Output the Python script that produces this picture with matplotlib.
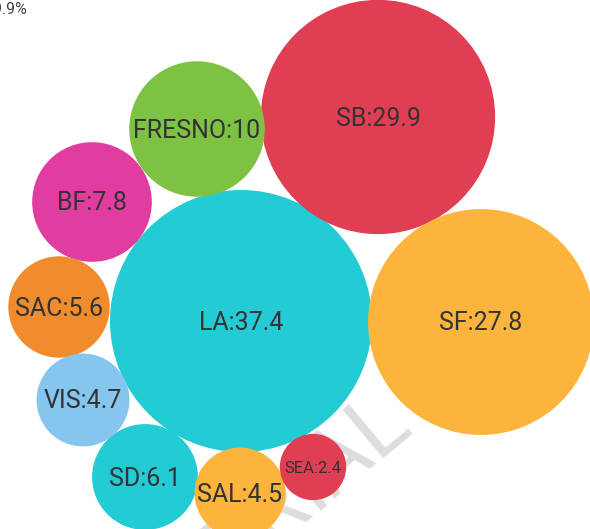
import numpy as np
import matplotlib.pyplot as plt
from matplotlib.patches import Circle

# data
cities = ['LA', 'SB', 'SF', 'FRESNO', 'BF', 'SD', 'SAC', 'VIS', 'SAL', 'SEA']
values = [37.4, 29.9, 27.8, 10, 7.8, 6.1, 5.6, 4.7, 4.5, 2.4]
colors = ['#23cbd5', '#e03e52', '#fcb43d', '#7dc243', '#e13da1',
          '#23cbd5', '#f08c2e', '#86c5ee', '#fcb43d', '#e03e52']

# packed layout (bubble centres, in pixel space of the 590x529 canvas)
centres = [(241, 321), (378, 117), (481, 322), (197, 129), (92, 202),
           (145, 477), (59, 307), (83, 400), (240, 493), (313, 467)]

plt.rcParams['font.family'] = ['Roboto', 'DejaVu Sans']

fig = plt.figure(figsize=(5.9, 5.29), dpi=100)
ax = fig.add_axes([0, 0, 1, 1])
ax.set_xlim(0, 590)
ax.set_ylim(529, 0)
ax.set_aspect('equal')
ax.axis('off')

# radius from sqrt scale
scale = 131 / np.sqrt(max(values))
radii = scale * np.sqrt(values)

# watermark
ax.text(308, 488, 'TRIAL', fontsize=64, color='#dddddd', rotation=40,
        ha='center', va='center', zorder=0)

for name, v, c, (x, y), r in zip(cities, values, colors, centres, radii):
    ax.add_patch(Circle((x, y), r, color=c, lw=0, zorder=2))
    fs = 18 if r > 40 else 12
    label = f'{name}:{v:g}'
    ax.text(x, y + 1.5, label, fontsize=fs, color='#333333', ha='center',
            va='center', zorder=3)

# cut-off title at the top-left corner
ax.text(27, 10, '29.9%', fontsize=11.5, color='#444444', ha='right',
        va='center')

fig.savefig('out.png', dpi=100)
